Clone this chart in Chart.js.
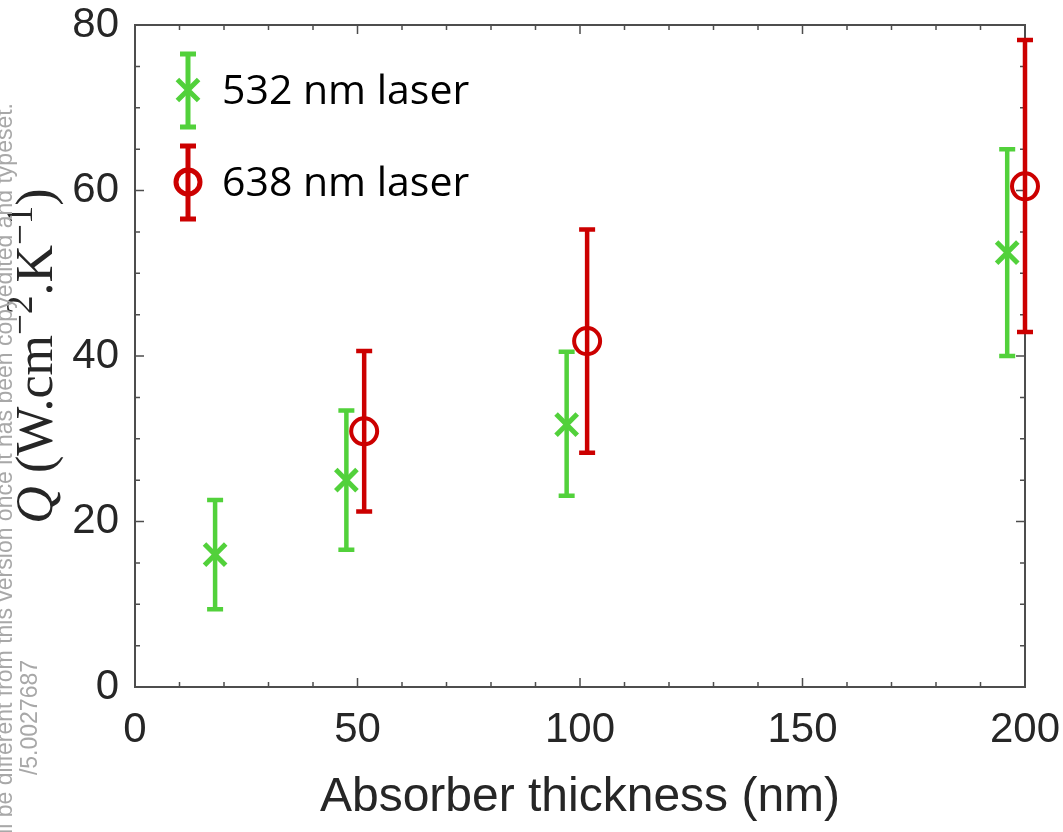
<!DOCTYPE html>
<html lang="en">
<head>
<meta charset="UTF-8">
<title>Q vs absorber thickness</title>
<script src="https://cdn.jsdelivr.net/npm/chart.js"></script>
<style>
  html, body { margin: 0; padding: 0; background: #fff; }
  #wrap { position: relative; width: 1063px; height: 832px; }
</style>
</head>
<body>
<div id="wrap"><canvas id="qChart" width="1063" height="832"></canvas></div>
<script>
// 532 nm laser
const greenThickness = [18, 47.5, 97, 196];
const greenQ = [16.0, 25.0, 31.7, 52.5];
const greenLow = [9.4, 16.6, 23.1, 40.0];
const greenHigh = [22.6, 33.4, 40.5, 65.0];

// 638 nm laser
const redThickness = [51.5, 101.6, 200];
const redQ = [30.9, 41.8, 60.5];
const redLow = [21.2, 28.3, 42.9];
const redHigh = [40.6, 55.3, 78.2];

const seriesNames = ['532 nm laser', '638 nm laser'];
const xTicks = [0, 50, 100, 150, 200];
const yTicks = [0, 20, 40, 60, 80];
const xTitle = 'Absorber thickness (nm)';

const GREEN = '#52d13b';
const RED = '#cc0000';
const AXIS = '#4d4d4d';
const TEXT = '#262626';

function toPoints(xs, ys) {
    return xs.map((x, i) => ({ x: x, y: ys[i] }));
}

// no extra room for overhanging labels, layout padding decides the plot box
function noScalePadding(s) {
    s.paddingTop = 0; s.paddingBottom = 0;
    s.paddingLeft = 0; s.paddingRight = 0;
}

// box, inward ticks and minor ticks (drawn under the data like matlab does)
const axesBox = {
    id: 'axesBox',
    beforeDatasetsDraw(chart) {
        const { ctx, chartArea: a, scales } = chart;
        const xs = scales.x, ys = scales.y;
        ctx.save();
        ctx.strokeStyle = AXIS;
        ctx.lineWidth = 2;
        ctx.strokeRect(a.left, a.top, a.right - a.left, a.bottom - a.top);
        ctx.lineWidth = 1.5;
        ctx.beginPath();
        for (let v = 0; v <= 200; v += 10) {
            const px = xs.getPixelForValue(v);
            const len = v % 50 === 0 ? 9 : 5;
            ctx.moveTo(px, a.bottom); ctx.lineTo(px, a.bottom - len);
            ctx.moveTo(px, a.top); ctx.lineTo(px, a.top + len);
        }
        for (let v = 0; v <= 80; v += 5) {
            const py = ys.getPixelForValue(v);
            const len = v % 20 === 0 ? 9 : 5;
            ctx.moveTo(a.left, py); ctx.lineTo(a.left + len, py);
            ctx.moveTo(a.right, py); ctx.lineTo(a.right - len, py);
        }
        ctx.stroke();

        // error bars
        chart.data.datasets.forEach(ds => {
            ctx.strokeStyle = ds.borderColor;
            ctx.lineWidth = 4.5;
            ctx.lineCap = 'butt';
            ds.data.forEach((p, i) => {
                const px = xs.getPixelForValue(p.x);
                const lo = ys.getPixelForValue(ds.errLow[i]);
                const hi = ys.getPixelForValue(ds.errHigh[i]);
                ctx.beginPath();
                ctx.moveTo(px, lo); ctx.lineTo(px, hi);
                ctx.moveTo(px - 8, lo); ctx.lineTo(px + 8, lo);
                ctx.moveTo(px - 8, hi); ctx.lineTo(px + 8, hi);
                ctx.stroke();
            });
        });
        ctx.restore();
    },
    afterDraw(chart) {
        const { ctx, chartArea: a } = chart;
        ctx.save();

        // x title
        ctx.fillStyle = TEXT;
        ctx.font = '48px "Liberation Sans", Arial, sans-serif';
        ctx.textAlign = 'center';
        ctx.textBaseline = 'alphabetic';
        ctx.fillText(xTitle, (a.left + a.right) / 2, 811);

        // y title, latex-like: Q (W.cm^-2.K^-1)
        const big = '52px "Liberation Serif", serif';
        const small = '37px "Liberation Serif", serif';
        const parts = [
            { t: 'Q', f: 'italic ' + big, dy: 0 },
            { t: ' (W.cm', f: big, dy: 0 },
            { t: '\u22122', f: small, dy: -20 },
            { t: '.K', f: big, dy: 0 },
            { t: '\u22121', f: small, dy: -20 },
            { t: ')', f: big, dy: 0 }
        ];
        let total = 0;
        parts.forEach(p => { ctx.font = p.f; p.w = ctx.measureText(p.t).width; total += p.w; });
        ctx.translate(52, (a.top + a.bottom) / 2);
        ctx.rotate(-Math.PI / 2);
        ctx.textAlign = 'left';
        let cx = -total / 2;
        parts.forEach(p => {
            ctx.font = p.f;
            ctx.fillText(p.t, cx, p.dy);
            cx += p.w;
        });
        ctx.restore();

        // legend with error-bar glyphs
        ctx.save();
        const lx = a.left + 53;
        const rows = [
            { y: a.top + 65, color: GREEN, style: 'crossRot', r: 15 },
            { y: a.top + 157, color: RED, style: 'circle', r: 12 }
        ];
        rows.forEach((row, i) => {
            ctx.strokeStyle = row.color;
            ctx.fillStyle = 'rgba(0,0,0,0)';
            ctx.lineWidth = 5;
            ctx.beginPath();
            ctx.moveTo(lx, row.y - 36); ctx.lineTo(lx, row.y + 37);
            ctx.moveTo(lx - 8, row.y - 36); ctx.lineTo(lx + 8, row.y - 36);
            ctx.moveTo(lx - 8, row.y + 37); ctx.lineTo(lx + 8, row.y + 37);
            ctx.stroke();
            Chart.helpers.drawPoint(ctx, {
                pointStyle: row.style, radius: row.r, borderWidth: 5
            }, lx, row.y);
            ctx.fillStyle = '#000';
            ctx.font = '41px "Open Sans", sans-serif';
            ctx.textAlign = 'left';
            ctx.textBaseline = 'middle';
            ctx.fillText(seriesNames[i], lx + 34, row.y + 2);
        });
        ctx.restore();

        // publisher watermark at the left edge (cut off in the source)
        ctx.save();
        ctx.fillStyle = '#a8a8a8';
        ctx.font = '23px "Liberation Sans Narrow", "Liberation Sans", sans-serif';
        ctx.textAlign = 'right';
        ctx.translate(12, 103);
        ctx.rotate(-Math.PI / 2);
        ctx.fillText('This is the author\u2019s peer reviewed, accepted manuscript. However, the online version of record will be different from this version once it has been copyedited and typeset.', 0, 0);
        ctx.restore();
        ctx.save();
        ctx.fillStyle = '#a8a8a8';
        ctx.font = '23px "Liberation Sans Narrow", "Liberation Sans", sans-serif';
        ctx.textAlign = 'right';
        ctx.translate(37, 660);
        ctx.rotate(-Math.PI / 2);
        ctx.fillText('/5.0027687', 0, 0);
        ctx.restore();
    }
};

new Chart(document.getElementById('qChart'), {
    type: 'scatter',
    data: {
        datasets: [
            {
                label: seriesNames[0],
                data: toPoints(greenThickness, greenQ),
                errLow: greenLow,
                errHigh: greenHigh,
                borderColor: GREEN,
                backgroundColor: GREEN,
                pointStyle: 'crossRot',
                pointRadius: 15,
                pointBorderWidth: 5,
                clip: false
            },
            {
                label: seriesNames[1],
                data: toPoints(redThickness, redQ),
                errLow: redLow,
                errHigh: redHigh,
                borderColor: RED,
                backgroundColor: 'rgba(0,0,0,0)',
                pointStyle: 'circle',
                pointRadius: 13,
                pointBorderWidth: 4,
                clip: false
            }
        ]
    },
    options: {
        responsive: false,
        animation: false,
        layout: { padding: { left: 0, top: 25, right: 38, bottom: 0 } },
        plugins: { legend: { display: false }, tooltip: { enabled: false } },
        scales: {
            x: {
                type: 'linear',
                min: 0, max: 200,
                afterBuildTicks: s => { s.ticks = xTicks.map(v => ({ value: v })); },
                afterFit: s => { s.height = 145; noScalePadding(s); },
                grid: { display: false, drawTicks: false },
                border: { display: false },
                ticks: {
                    color: TEXT,
                    padding: 22,
                    maxRotation: 0,
                    font: { family: '"Liberation Sans", Arial, sans-serif', size: 42, lineHeight: 1 }
                }
            },
            y: {
                type: 'linear',
                min: 0, max: 80,
                afterBuildTicks: s => { s.ticks = yTicks.map(v => ({ value: v })); },
                afterFit: s => { s.width = 135; noScalePadding(s); },
                grid: { display: false, drawTicks: false },
                border: { display: false },
                ticks: {
                    color: TEXT,
                    padding: 16,
                    font: { family: '"Liberation Sans", Arial, sans-serif', size: 42, lineHeight: 1 }
                }
            }
        }
    },
    plugins: [axesBox]
});
</script>
</body>
</html>
